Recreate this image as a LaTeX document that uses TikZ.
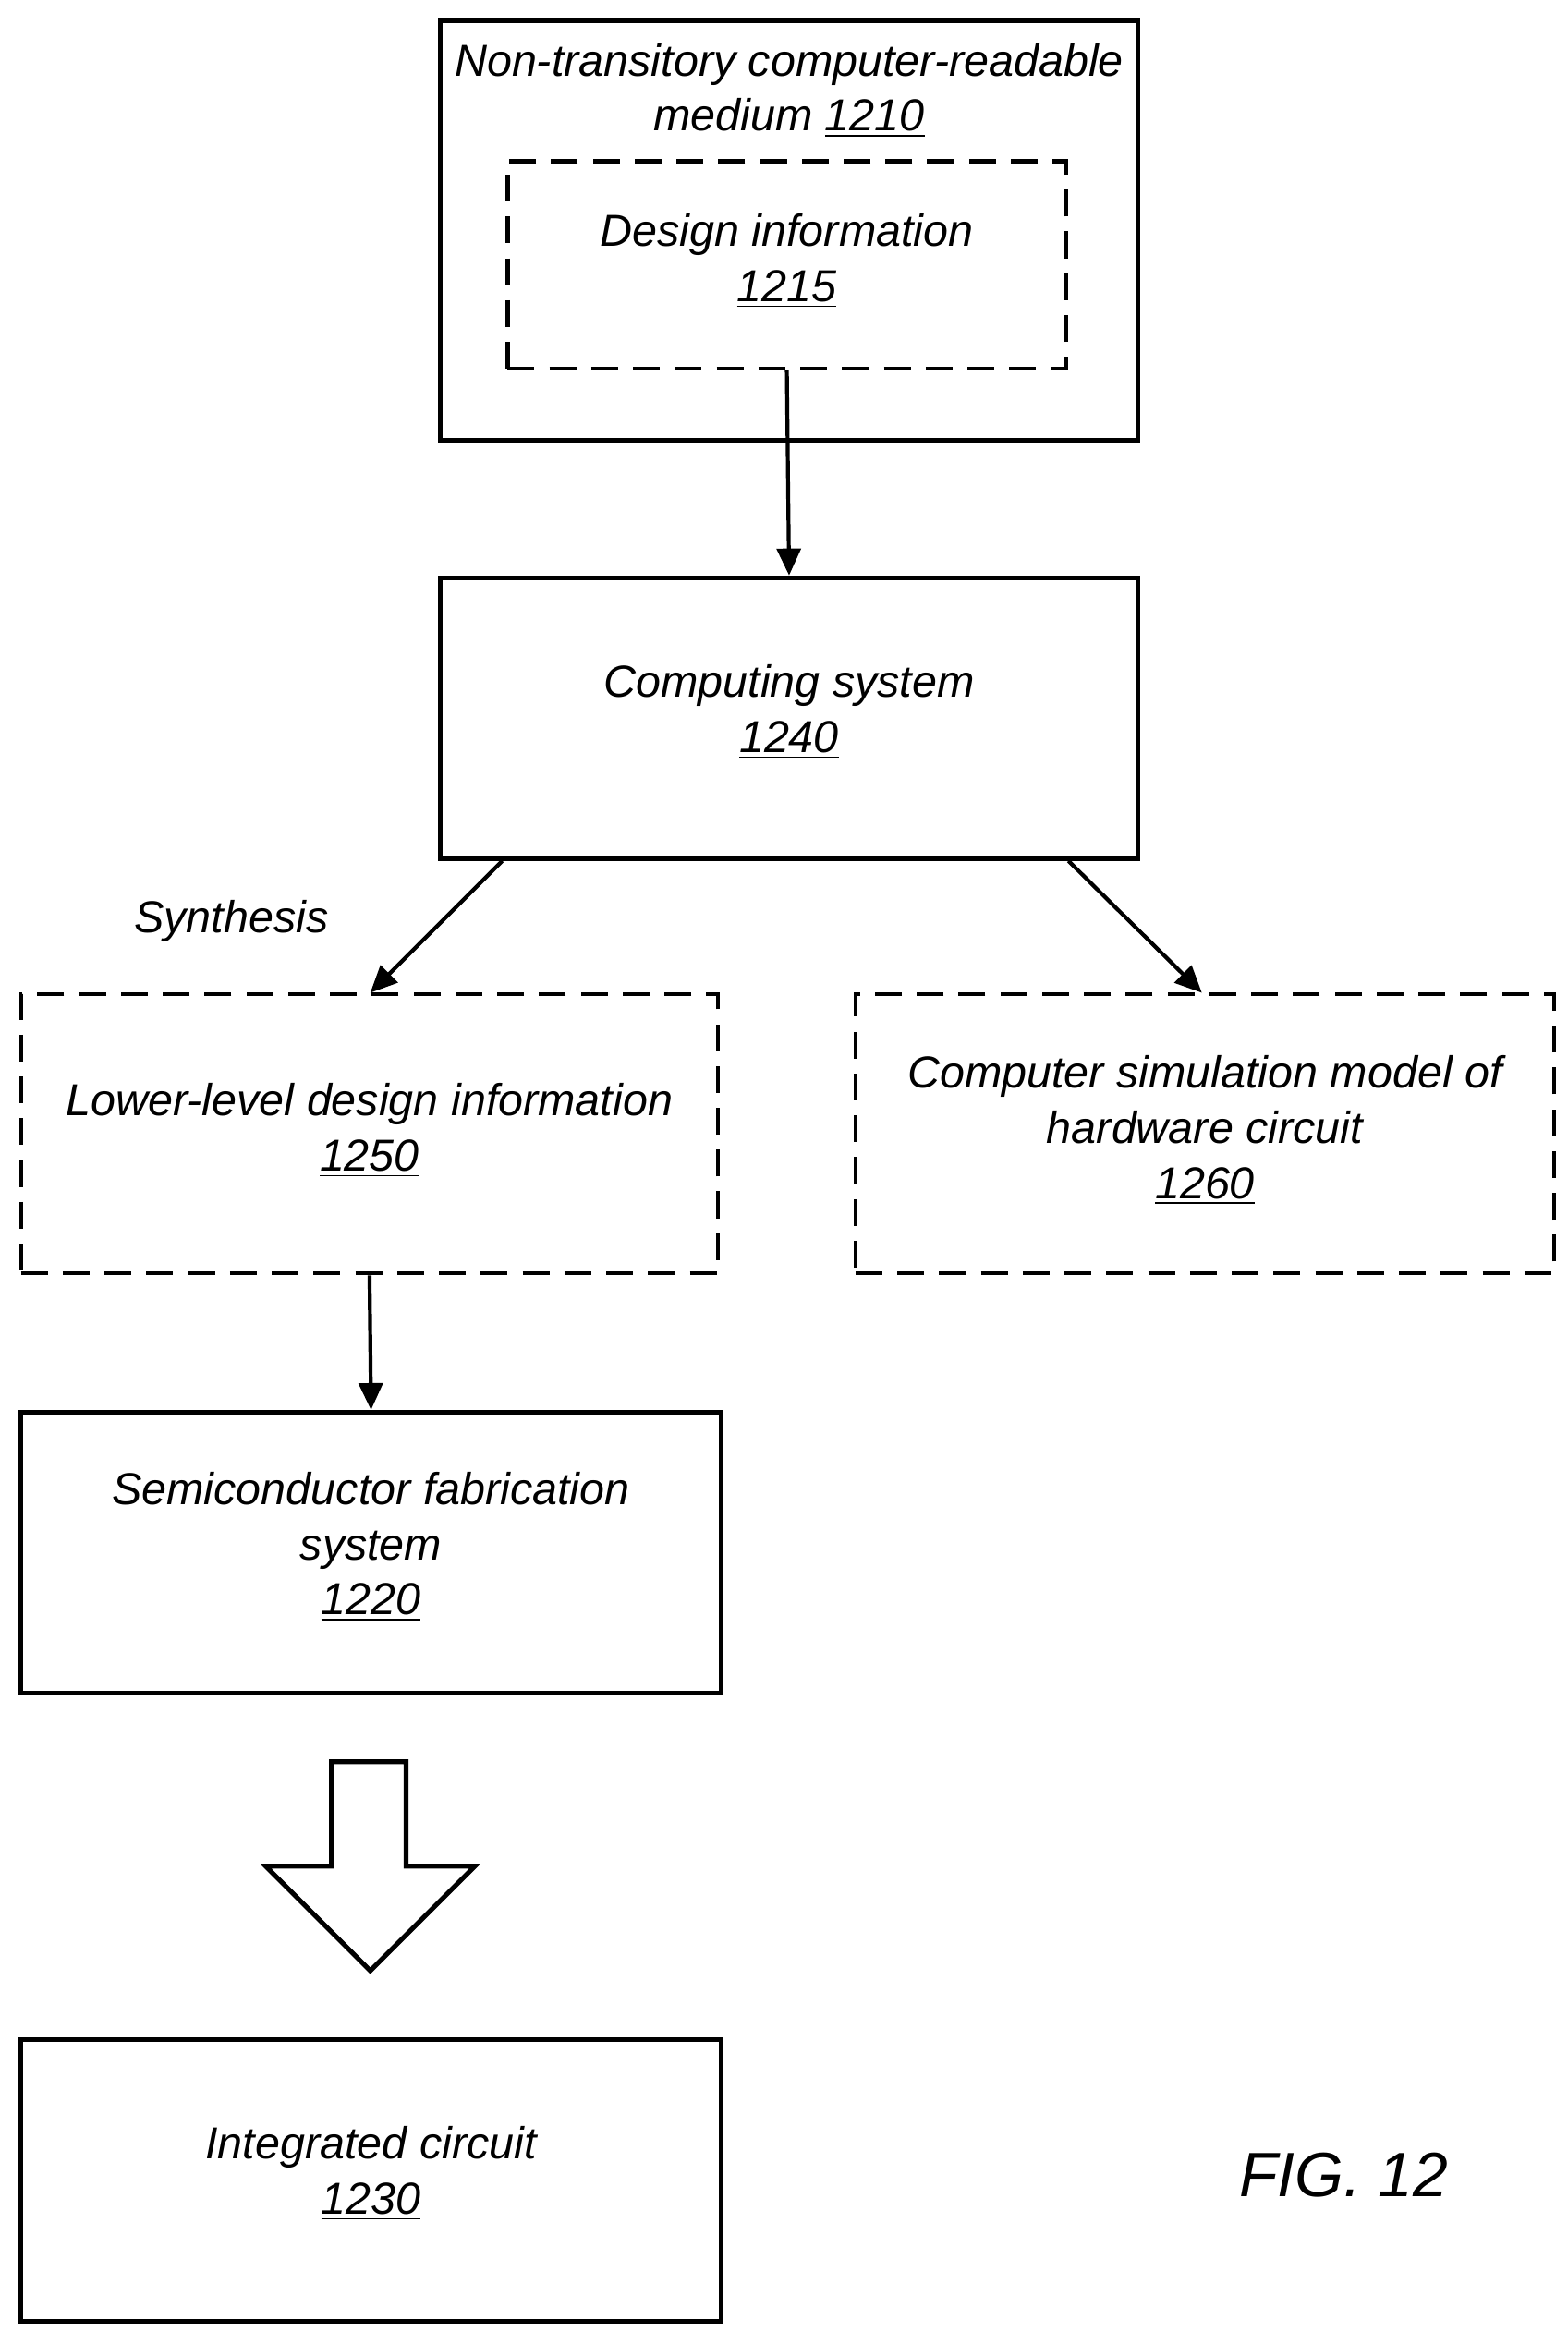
\documentclass[tikz,border=0pt]{standalone}
\usepackage{fontspec}
\setmainfont{Liberation Sans}
\usetikzlibrary{arrows.meta}
\begin{document}
\begin{tikzpicture}[x=0.5pt,y=-0.5pt,
  box/.style={draw,line width=1.6pt,inner sep=0pt},
  dbox/.style={draw,line width=1.3pt,dash pattern=on 9pt off 5pt,inner sep=0pt},
  lbl/.style={font=\itshape\fontsize{15}{18.5}\selectfont,align=center},
  arr/.style={line width=1.3pt,-{Triangle[length=9pt,width=8pt]}}]
\useasboundingbox (0,0) rectangle (1050,1562);
\node[box,minimum width=233.5pt,minimum height=140.5pt] (m) at (528.5,154.5) {};
\node[lbl,anchor=north] (mt) at (528.5,22) {Non-transitory computer-readable\\medium \underline{1210}};
\node[dbox,minimum width=187pt,minimum height=69.5pt] (d) at (527,177.5) {};
\node[lbl] (dt) at (527,175) {Design information\\\underline{1215}};
\node[box,minimum width=233.5pt,minimum height=94pt] (c) at (528.5,481) {};
\node[lbl] (ct) at (528.5,477) {Computing system\\\underline{1240}};
\node[dbox,minimum width=233.5pt,minimum height=93.5pt] (l) at (247.5,759.5) {};
\node[lbl] (lt) at (247.5,757) {Lower-level design information\\\underline{1250}};
\node[dbox,minimum width=234pt,minimum height=93.5pt] (s) at (807,759.5) {};
\node[lbl] (st) at (807,757) {Computer simulation model of\\hardware circuit\\\underline{1260}};
\node[box,minimum width=234.5pt,minimum height=94pt] (f) at (248.5,1040) {};
\node[lbl] (ft) at (248.5,1036) {Semiconductor fabrication\\system\\\underline{1220}};
\node[box,minimum width=234.5pt,minimum height=94.5pt] (i) at (248.5,1460.5) {};
\node[lbl] (it) at (248.5,1456) {Integrated circuit\\\underline{1230}};
\node[lbl] (syn) at (155,617) {Synthesis};
\node[font=\itshape\fontsize{21}{24}\selectfont] (fig) at (900,1457) {FIG. 12};
\draw[arr] (d.south) -- (c.north);
\draw[arr] ([xshift=21.5pt]c.south west) -- (248,665);
\draw[arr] ([xshift=-24pt]c.south east) -- (805,665);
\draw[arr] (l.south) -- (f.north);
\draw[line width=1.6pt,line join=miter] (222,1180) -- (272,1180) -- (272,1250) -- (318,1250) -- (248,1320) -- (178,1250) -- (222,1250) -- cycle;
\end{tikzpicture}
\end{document}
